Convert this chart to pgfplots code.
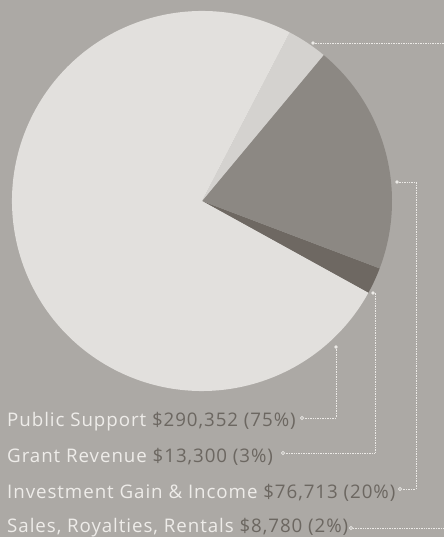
\documentclass[border=0pt]{standalone}
\usepackage{pgfplots}
\usepackage{pgfplotstable}
\pgfplotsset{compat=1.18}
\usepackage{fontspec}
\setmainfont{Open Sans}
\newfontfamily\lblfont[LetterSpace=5]{Open Sans}
\definecolor{bg}{RGB}{172,169,165}
\definecolor{cpublic}{RGB}{226,224,221}
\definecolor{cgrant}{RGB}{212,210,207}
\definecolor{cinvest}{RGB}{140,136,131}
\definecolor{csales}{RGB}{110,104,98}
\definecolor{namecol}{RGB}{238,236,233}
\definecolor{valcol}{RGB}{108,103,97}
\definecolor{linecol}{RGB}{236,234,231}
\pgfplotstableread[col sep=comma]{
name,value
Sales,8780
Investment,76713
Grant,13300
Public,290352
}\pietable
\pgfplotstablegetelem{0}{value}\of\pietable \let\vS\pgfplotsretval
\pgfplotstablegetelem{1}{value}\of\pietable \let\vI\pgfplotsretval
\pgfplotstablegetelem{2}{value}\of\pietable \let\vG\pgfplotsretval
\pgfplotstablegetelem{3}{value}\of\pietable \let\vP\pgfplotsretval
\edef\tot{\fpeval{\vS+\vI+\vG+\vP}}
\edef\aA{\fpeval{round(50.2-360*(\vS+\vI)/\tot,3)}}
\edef\aB{\fpeval{round(\aA+360*\vS/\tot,3)}}
\edef\aC{\fpeval{round(\aB+360*\vI/\tot,3)}}
\edef\aD{\fpeval{round(\aC+360*\vG/\tot,3)}}
\edef\aE{\fpeval{\aA+360}}
\begin{document}
\begin{tikzpicture}
\begin{axis}[x=1bp,y=1bp,xmin=0,xmax=444,ymin=0,ymax=537,
  scale only axis,hide axis,clip=true]
\fill[bg] (axis cs:0,0) rectangle (axis cs:444,537);
\fill[csales] (axis cs:202,336) -- ++(\aA:190bp) arc[start angle=\aA,end angle=\aB,radius=190bp] -- cycle;
\fill[cinvest] (axis cs:202,336) -- ++(\aB:190bp) arc[start angle=\aB,end angle=\aC,radius=190bp] -- cycle;
\fill[cgrant] (axis cs:202,336) -- ++(\aC:190bp) arc[start angle=\aC,end angle=\aD,radius=190bp] -- cycle;
\fill[cpublic] (axis cs:202,336) -- ++(\aD:190bp) arc[start angle=\aD,end angle=\aE,radius=190bp] -- cycle;
% connectors
\draw[linecol,line width=0.7pt,densely dotted] (axis cs:336,190) -- (axis cs:336,119) -- (axis cs:304,119);
\draw[linecol,line width=0.7pt,densely dotted] (axis cs:373,244) -- (axis cs:375,244) -- (axis cs:375,84) -- (axis cs:285,84);
\draw[linecol,line width=0.7pt,densely dotted] (axis cs:397,355) -- (axis cs:416,355) -- (axis cs:416,48) -- (axis cs:402,48);
\draw[linecol,line width=0.7pt,densely dotted] (axis cs:353,9) -- (axis cs:444,9);
\draw[linecol,line width=0.7pt,densely dotted] (axis cs:313,494) -- (axis cs:444,494);
\fill[linecol] (axis cs:336,190) circle[radius=1.8bp];
\fill[linecol] (axis cs:373,244) circle[radius=1.8bp];
\fill[linecol] (axis cs:397,355) circle[radius=1.8bp];
\fill[linecol] (axis cs:313,494) circle[radius=1.8bp];
\draw[linecol,line width=0.6pt] (axis cs:302,119) circle[radius=1.6bp];
\draw[linecol,line width=0.6pt] (axis cs:283,84) circle[radius=1.6bp];
\draw[linecol,line width=0.6pt] (axis cs:400,48) circle[radius=1.6bp];
\draw[linecol,line width=0.6pt] (axis cs:351,9) circle[radius=1.6bp];
% labels
\node[anchor=base west,inner sep=0pt,font=\lblfont\fontsize{18.8}{22}\selectfont] at (axis cs:7,110) {\color{namecol}Public Support \color{valcol}\$290,352 (75\%)};
\node[anchor=base west,inner sep=0pt,font=\lblfont\fontsize{18.8}{22}\selectfont] at (axis cs:7,74) {\color{namecol}Grant Revenue \color{valcol}\$13,300 (3\%)};
\node[anchor=base west,inner sep=0pt,font=\lblfont\fontsize{18.8}{22}\selectfont] at (axis cs:7,38) {\color{namecol}Investment Gain \& Income \color{valcol}\$76,713 (20\%)};
\node[anchor=base west,inner sep=0pt,font=\lblfont\fontsize{18.8}{22}\selectfont] at (axis cs:7,4.5) {\color{namecol}Sales, Royalties, Rentals \color{valcol}\$8,780 (2\%)};
\end{axis}
\end{tikzpicture}
\end{document}
